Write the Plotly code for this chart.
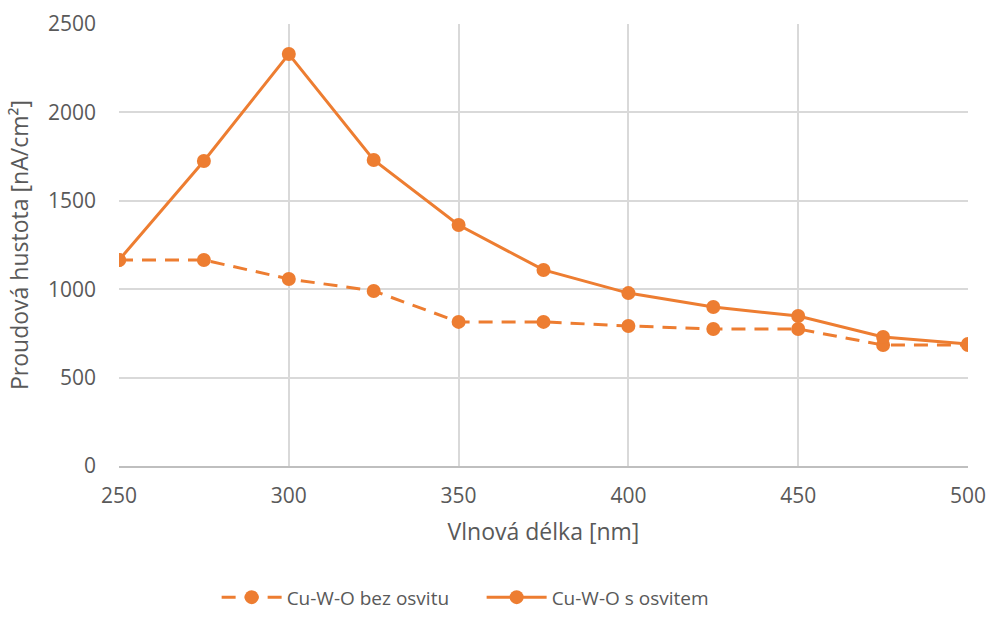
import plotly.graph_objects as go

# Wavelength sweep [nm] and current density [nA/cm²]
wavelength = [250, 275, 300, 325, 350, 375, 400, 425, 450, 475, 500]
dark = [1165, 1165, 1058, 990, 815, 815, 792, 775, 775, 684, 684]
lit = [1165, 1725, 2330, 1731, 1363, 1109, 978, 899, 848, 730, 690]

orange = "#ED7D31"
font_family = "Open Sans, Lato, sans-serif"
text_color = "#595959"

fig = go.Figure()
fig.add_trace(go.Scatter(
    x=wavelength, y=dark, name="Cu-W-O bez osvitu", mode="lines+markers",
    line=dict(color=orange, width=3, dash="14px,9px"),
    marker=dict(color=orange, size=14),
))
fig.add_trace(go.Scatter(
    x=wavelength, y=lit, name="Cu-W-O s osvitem", mode="lines+markers",
    line=dict(color=orange, width=3),
    marker=dict(color=orange, size=14),
))

fig.update_layout(
    width=988, height=617,
    margin=dict(l=119, r=20, t=24, b=151, autoexpand=False),
    paper_bgcolor="white", plot_bgcolor="white",
    font=dict(family=font_family, size=21, color=text_color),
    showlegend=True,
    legend=dict(orientation="h", x=0.115, xanchor="left", y=-0.34, yanchor="bottom",
                font=dict(size=19, color=text_color), itemwidth=60,
                entrywidth=190, entrywidthmode="pixels",
                traceorder="normal"),
    xaxis=dict(
        range=[250, 500], tickmode="linear", tick0=250, dtick=50,
        showgrid=True, gridcolor="#D9D9D9", gridwidth=1.5,
        showline=True, linecolor="#BFBFBF", linewidth=1.5,
        zeroline=False, ticks="", ticklen=0, automargin=False,
        ticklabelstandoff=10,
        title=dict(text="Vlnová délka [nm]", font=dict(size=23), standoff=16),
        tickfont=dict(size=21),
    ),
    yaxis=dict(
        range=[0, 2500], tickmode="linear", tick0=0, dtick=500,
        showgrid=True, gridcolor="#D9D9D9", gridwidth=1.5,
        showline=False, zeroline=False, ticks="", automargin=False,
        ticklabelstandoff=22,
        title=dict(text="Proudová hustota [nA/cm²]", font=dict(size=23), standoff=12),
        tickfont=dict(size=21),
    ),
)

fig.write_html("out.html")
